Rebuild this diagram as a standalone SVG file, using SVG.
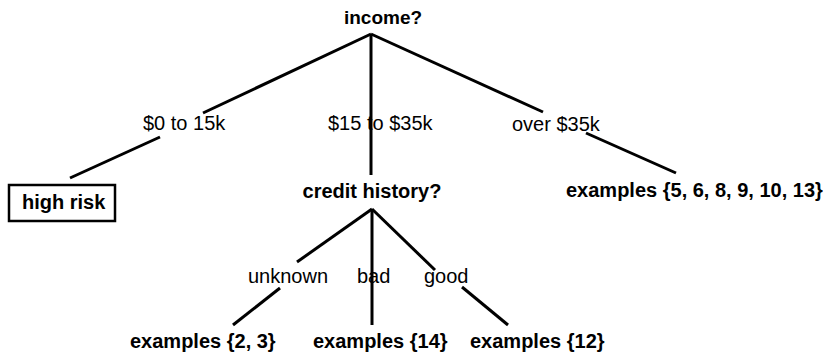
<svg xmlns="http://www.w3.org/2000/svg" width="827" height="353" viewBox="0 0 827 353">
<style>
text{font-family:"Liberation Sans",Arial,sans-serif;font-size:20px;fill:#000}
.b{font-weight:bold}
.e{stroke:#000;stroke-width:3;fill:none;stroke-linecap:butt}
</style>
<rect width="827" height="353" fill="#fff"/>
<g id="connectors" class="e">
<line x1="371" y1="34" x2="203" y2="113"/>
<line x1="160" y1="137" x2="70" y2="178"/>
<line x1="371" y1="34" x2="371" y2="175"/>
<line x1="371" y1="34" x2="543" y2="112"/>
<line x1="586" y1="133" x2="676" y2="173"/>
<line x1="372" y1="209" x2="297" y2="262"/>
<line x1="280" y1="288" x2="233" y2="325"/>
<line x1="372" y1="209" x2="372" y2="325"/>
<line x1="372" y1="209" x2="435" y2="270"/>
<line x1="462" y1="287" x2="508" y2="325"/>
</g>
<g id="labels">
<text x="143" y="130">$0 to 15k</text>
<text x="328" y="130">$15 to $35k</text>
<text x="512" y="131">over $35k</text>
<text x="248" y="283">unknown</text>
<text x="357" y="283">bad</text>
<text x="424" y="283">good</text>
</g>
<g id="income"><text class="b" x="383" y="24" text-anchor="middle" style="font-size:19px">income?</text></g>
<g id="highrisk"><rect x="9" y="185" width="106" height="36" fill="none" stroke="#000" stroke-width="2.5"/><text class="b" x="22" y="209">high risk</text></g>
<g id="credit"><text class="b" x="372" y="198" text-anchor="middle">credit history?</text></g>
<g id="ex1"><text class="b" x="566" y="197">examples {5, 6, 8, 9, 10, 13}</text></g>
<g id="ex2"><text class="b" x="130" y="348">examples {2, 3}</text></g>
<g id="ex3"><text class="b" x="313" y="348">examples {14}</text></g>
<g id="ex4"><text class="b" x="470" y="348">examples {12}</text></g>
</svg>
